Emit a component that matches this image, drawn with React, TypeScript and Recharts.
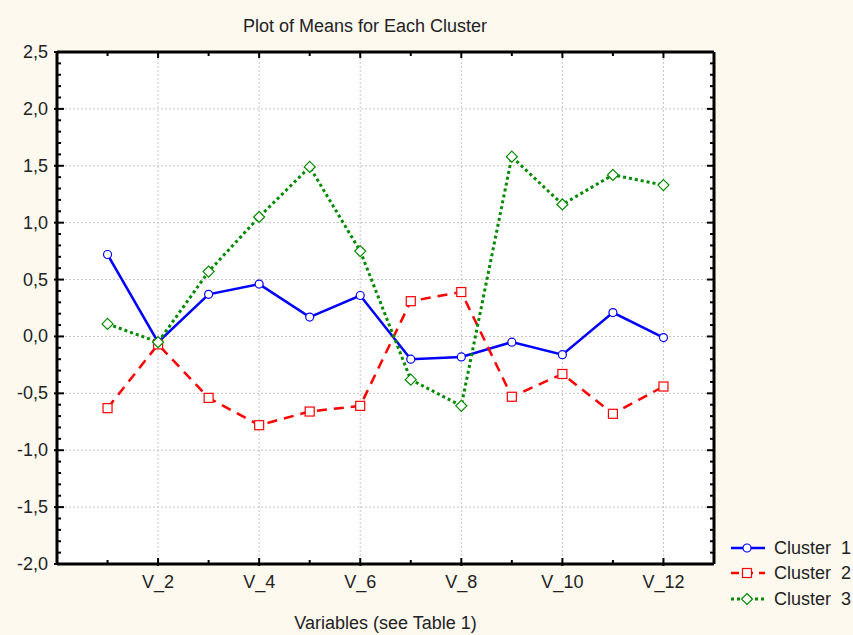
import React from 'react';
import { LineChart, Line, XAxis, YAxis, ReferenceLine } from 'recharts';

const categories = ['V_1', 'V_2', 'V_3', 'V_4', 'V_5', 'V_6', 'V_7', 'V_8', 'V_9', 'V_10', 'V_11', 'V_12'];
const cluster1 = [0.72, -0.05, 0.37, 0.46, 0.17, 0.36, -0.2, -0.18, -0.05, -0.16, 0.21, -0.01];
const cluster2 = [-0.63, -0.07, -0.54, -0.78, -0.66, -0.61, 0.31, 0.39, -0.53, -0.33, -0.68, -0.44];
const cluster3 = [0.11, -0.05, 0.57, 1.05, 1.49, 0.75, -0.38, -0.61, 1.58, 1.16, 1.42, 1.33];
const yLabels = [-2.0, -1.5, -1.0, -0.5, 0.0, 0.5, 1.0, 1.5, 2.0, 2.5];
const labelledCategories = ['V_2', 'V_4', 'V_6', 'V_8', 'V_10', 'V_12'];
const seriesNames = ['Cluster  1', 'Cluster  2', 'Cluster  3'];

const FONT = '"Liberation Sans", Arial, sans-serif';
const TEXT = '#222';
const BG = '#fdf9ef';
const GRID = '#c4c4c4';

const data = categories.map((name, i) => ({
  name,
  pos: i + 1,
  c1: cluster1[i],
  c2: cluster2[i],
  c3: cluster3[i],
}));

// positions of every category, and of the ones that get a label + grid line
const xTicks = data.map((d) => d.pos);
const xMajor = data.filter((d) => labelledCategories.includes(d.name)).map((d) => d.pos);
// minor ticks every 0.1 on the value axis
const yTicks = Array.from({ length: 46 }, (_, i) => Math.round((-2 + i * 0.1) * 10) / 10);

const isMajorY = (v: number) => yLabels.some((l) => Math.abs(l - v) < 1e-6);
const fmt = (v: number) => v.toFixed(1).replace('.', ',');

const series = [
  { key: 'c1', name: seriesNames[0], color: '#0000ff', dash: undefined, width: 2.5, marker: 'circle' },
  { key: 'c2', name: seriesNames[1], color: '#ff0000', dash: '10 7', width: 2.5, marker: 'square' },
  { key: 'c3', name: seriesNames[2], color: '#008a00', dash: '3 3', width: 3, marker: 'diamond' },
];

const Marker = ({ cx, cy, type, color }: { cx: number; cy: number; type: string; color: string }) => {
  if (type === 'square') {
    return <rect x={cx - 4.5} y={cy - 4.5} width={9} height={9} fill="#fff" stroke={color} strokeWidth={1.2} />;
  }
  if (type === 'diamond') {
    return (
      <polygon
        points={`${cx},${cy - 5.5} ${cx + 5.5},${cy} ${cx},${cy + 5.5} ${cx - 5.5},${cy}`}
        fill="#fff"
        stroke={color}
        strokeWidth={1.2}
      />
    );
  }
  return <circle cx={cx} cy={cy} r={4} fill="#fff" stroke={color} strokeWidth={1.2} />;
};

const LeftTick = (props: any) => {
  const { x, y, payload } = props;
  const major = isMajorY(payload.value);
  return (
    <g>
      <line x1={major ? x - 3 : x} x2={x + (major ? 7 : 4)} y1={y} y2={y} stroke="#000" strokeWidth={2} />
      {major && (
        <text x={x - 9} y={y} textAnchor="end" dominantBaseline="central" fontFamily={FONT} fontSize={18} fill={TEXT}>
          {fmt(payload.value)}
        </text>
      )}
    </g>
  );
};

const RightTick = (props: any) => {
  const { x, y, payload } = props;
  const major = isMajorY(payload.value);
  return <line x1={x - (major ? 7 : 4)} x2={x} y1={y} y2={y} stroke="#000" strokeWidth={2} />;
};

const BottomTick = (props: any) => {
  const { x, y, payload } = props;
  const major = xMajor.includes(payload.value);
  return (
    <g>
      <line x1={x} x2={x} y1={major ? y + 2 : y} y2={y - (major ? 6 : 4)} stroke="#000" strokeWidth={2} />
      {major && (
        <text x={x} y={y + 24} textAnchor="middle" fontFamily={FONT} fontSize={18} fill={TEXT}>
          {categories[payload.value - 1]}
        </text>
      )}
    </g>
  );
};

const TopTick = (props: any) => {
  const { x, y, payload } = props;
  const major = xMajor.includes(payload.value);
  return <line x1={x} x2={x} y1={y} y2={y + (major ? 6 : 4)} stroke="#000" strokeWidth={2} />;
};

const LegendBox = () => (
  <div style={{ position: 'absolute', left: 730, top: 535, fontFamily: FONT, fontSize: 18, color: TEXT }}>
    {series.map((s) => (
      <div key={s.key} style={{ display: 'flex', alignItems: 'center', height: 25.5 }}>
        <svg width={36} height={14} style={{ display: 'block' }}>
          <line x1={1} x2={35} y1={7} y2={7} stroke={s.color} strokeWidth={s.width} strokeDasharray={s.key === 'c2' ? '8 6' : s.dash} />
          <Marker cx={17} cy={7} type={s.marker} color={s.color} />
        </svg>
        <span style={{ marginLeft: 8, whiteSpace: 'pre', lineHeight: '20px' }}>{s.name}</span>
      </div>
    ))}
  </div>
);

export default function App() {
  return (
    <div style={{ position: 'absolute', left: 0, top: 0, width: 853, height: 635, background: BG, overflow: 'hidden' }}>
      <div
        style={{
          position: 'absolute',
          left: 0,
          width: 730,
          top: 15,
          textAlign: 'center',
          fontFamily: FONT,
          fontSize: 18,
          lineHeight: '22px',
          color: TEXT,
        }}
      >
        Plot of Means for Each Cluster
      </div>
      <LineChart
        width={853}
        height={635}
        data={data}
        margin={{ top: 51, right: 138, bottom: 0, left: 0 }}
        style={{ position: 'absolute', left: 0, top: 0 }}
      >
        <rect x={57} y={52} width={657} height={512} fill="#fff" />
        <XAxis
          xAxisId="bottom"
          dataKey="pos"
          type="number"
          domain={[0, 13]}
          ticks={xTicks}
          interval={0}
          height={71}
          tickSize={0}
          tickMargin={0}
          tickLine={false}
          tick={BottomTick}
          axisLine={{ stroke: '#000', strokeWidth: 3 }}
          allowDataOverflow
          label={{ value: 'Variables (see Table 1)', position: 'insideBottom', offset: 6, fontFamily: FONT, fontSize: 18, fill: TEXT }}
        />
        <XAxis
          xAxisId="top"
          orientation="top"
          dataKey="pos"
          type="number"
          domain={[0, 13]}
          ticks={xTicks}
          interval={0}
          height={1}
          tickSize={0}
          tickMargin={0}
          tickLine={false}
          tick={TopTick}
          axisLine={{ stroke: '#000', strokeWidth: 3 }}
          allowDataOverflow
        />
        <YAxis
          yAxisId="left"
          type="number"
          domain={[-2, 2.5]}
          ticks={yTicks}
          interval={0}
          width={57}
          tickSize={0}
          tickMargin={0}
          tickLine={false}
          tick={LeftTick}
          axisLine={{ stroke: '#000', strokeWidth: 3 }}
          allowDataOverflow
        />
        <YAxis
          yAxisId="right"
          orientation="right"
          type="number"
          domain={[-2, 2.5]}
          ticks={yTicks}
          interval={0}
          width={1}
          tickSize={0}
          tickMargin={0}
          tickLine={false}
          tick={RightTick}
          axisLine={{ stroke: '#000', strokeWidth: 3 }}
          allowDataOverflow
        />
        {xMajor.map((p) => (
          <ReferenceLine key={`gx${p}`} xAxisId="bottom" yAxisId="left" x={p} stroke={GRID} strokeDasharray="2 2" />
        ))}
        {yLabels.slice(1, -1).map((v) => (
          <ReferenceLine key={`gy${v}`} xAxisId="bottom" yAxisId="left" y={v} stroke={GRID} strokeDasharray="2 2" />
        ))}
        {series.map((s) => (
          <Line
            key={s.key}
            xAxisId="bottom"
            yAxisId="left"
            type="linear"
            dataKey={s.key}
            name={s.name}
            stroke={s.color}
            strokeWidth={s.width}
            strokeDasharray={s.dash}
            isAnimationActive={false}
            dot={(p: any) => <Marker key={`${s.key}-${p.index}`} cx={p.cx} cy={p.cy} type={s.marker} color={s.color} />}
            activeDot={false}
          />
        ))}
      </LineChart>
      <LegendBox />
    </div>
  );
}
